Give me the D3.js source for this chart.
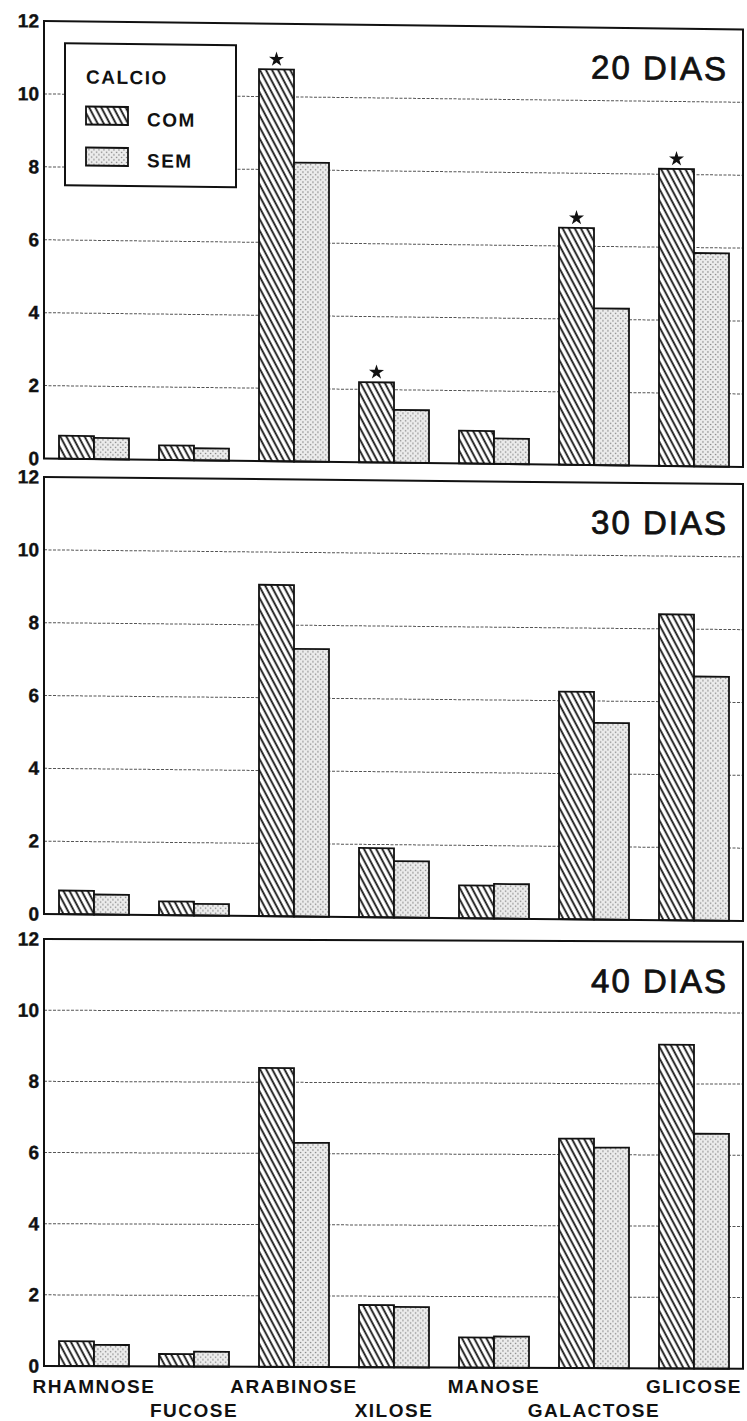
<!DOCTYPE html>
<html>
<head>
	<meta charset="utf-8">
	<title>Açúcares - CALCIO</title>
	<script src="https://d3js.org/d3.v7.min.js" charset="utf-8"></script>
	<style type="text/css">
		body {
			margin: 0;
			background-color: #ffffff;
		}
		svg text {
			font-family: 'Liberation Sans', Arial, Helvetica, sans-serif;
			fill: #111;
		}
		.lbl {
			font-size: 19px;
			font-weight: bold;
			letter-spacing: 1.5px;
		}
		.title {
			font-size: 33px;
			letter-spacing: 2px;
			stroke: #111;
			stroke-width: 0.8px;
		}
	</style>
</head>
<body>
	<div id="chart"></div>

	<script type="text/javascript">

		// acucares (categorias) e series por periodo
		var categories = ['RHAMNOSE', 'FUCOSE', 'ARABINOSE', 'XILOSE', 'MANOSE', 'GALACTOSE', 'GLICOSE'];
		var series = ['COM', 'SEM'];
		var panelLabels = ['20 DIAS', '30 DIAS', '40 DIAS'];
		var yTicks = [0, 2, 4, 6, 8, 10, 12];

		var com20 = [0.63, 0.40, 10.75, 2.2, 0.9, 6.5, 8.15];
		var sem20 = [0.58, 0.33, 8.2, 1.45, 0.7, 4.3, 5.85];
		var star20 = [false, false, true, true, false, true, true];

		var com30 = [0.65, 0.38, 9.1, 1.9, 0.9, 6.25, 8.4];
		var sem30 = [0.55, 0.32, 7.35, 1.55, 0.95, 5.4, 6.7];

		var com40 = [0.7, 0.35, 8.4, 1.75, 0.85, 6.45, 9.1];
		var sem40 = [0.6, 0.42, 6.3, 1.7, 0.88, 6.2, 6.6];

		var w = 747;
		var h = 1421;
		var left = 44;
		var right = 743;

		// posicao de cada painel na pagina (topo = 12, base = 0) e leve inclinacao do scan
		var panels = [
			{ label: panelLabels[0], com: com20, sem: sem20, star: star20, top: 21, bottom: 458.5, skew: 0.012 },
			{ label: panelLabels[1], com: com30, sem: sem30, star: null, top: 477, bottom: 914, skew: 0.010 },
			{ label: panelLabels[2], com: com40, sem: sem40, star: null, top: 939, bottom: 1366, skew: 0.004 }
		];

		var svg = d3.select('#chart')
			.append('svg')
			.attr('width', w)
			.attr('height', h)
			.attr('viewBox', '0 0 ' + w + ' ' + h);

		var defs = svg.append('defs');

		// hachurado (COM)
		var hatch = defs.append('pattern')
			.attr('id', 'hatch')
			.attr('patternUnits', 'userSpaceOnUse')
			.attr('width', 5.4)
			.attr('height', 10)
			.attr('patternTransform', 'rotate(-28)');
		hatch.append('rect')
			.attr('width', 5.4)
			.attr('height', 10)
			.attr('fill', '#fff');
		hatch.append('line')
			.attr('x1', 1.5).attr('y1', 0)
			.attr('x2', 1.5).attr('y2', 10)
			.attr('stroke', '#111')
			.attr('stroke-width', 1.8);

		// pontilhado (SEM)
		var dots = defs.append('pattern')
			.attr('id', 'dots')
			.attr('patternUnits', 'userSpaceOnUse')
			.attr('width', 5)
			.attr('height', 5);
		dots.append('rect')
			.attr('width', 5)
			.attr('height', 5)
			.attr('fill', '#ececec');
		dots.append('circle')
			.attr('cx', 1.5).attr('cy', 1.5).attr('r', 0.75)
			.attr('fill', '#777');
		dots.append('circle')
			.attr('cx', 4).attr('cy', 4).attr('r', 0.75)
			.attr('fill', '#777');

		var fills = { COM: 'url(#hatch)', SEM: 'url(#dots)' };

		var x0 = d3.scaleBand()
			.domain(categories)
			.range([left, left + 700])
			.paddingInner(0.3)
			.paddingOuter(0.15);

		var x1 = d3.scaleBand()
			.domain(series)
			.range([0, x0.bandwidth()]);

		panels.forEach(function(p) {

			var y = d3.scaleLinear()
				.domain([0, 12])
				.range([p.bottom, p.top]);

			var g = svg.append('g')
				.attr('transform', 'matrix(1,' + p.skew + ',0,1,0,' + (-left * p.skew) + ')');

			// linhas de grade pontilhadas
			g.selectAll('.grid')
				.data(yTicks.filter(function(t) { return t > 0 && t < 12; }))
				.enter()
				.append('line')
				.attr('x1', left)
				.attr('x2', right)
				.attr('y1', function(d) { return y(d); })
				.attr('y2', function(d) { return y(d); })
				.attr('stroke', '#555')
				.attr('stroke-width', 1)
				.attr('stroke-dasharray', '3,1.5');

			// eixo y
			var axis = g.append('g')
				.attr('transform', 'translate(' + left + ',0)')
				.call(d3.axisLeft(y).tickValues(yTicks).tickSize(0).tickPadding(5));
			axis.select('.domain').remove();
			axis.attr('font-family', null).attr('font-size', null);
			axis.selectAll('text')
				.style('font-size', '19px')
				.style('font-weight', 'bold')
				.attr('stroke', '#111')
				.attr('stroke-width', 0.4)
				.attr('fill', '#111');

			// rotulo do periodo
			g.append('text')
				.attr('class', 'title')
				.attr('x', 728)
				.attr('y', p.top + 51)
				.attr('text-anchor', 'end')
				.text(p.label);

			// barras
			var rows = categories.map(function(c, i) {
				return { cat: c, values: [
					{ key: 'COM', v: p.com[i] },
					{ key: 'SEM', v: p.sem[i] }
				], star: p.star ? p.star[i] : false, com: p.com[i] };
			});

			var grp = g.selectAll('.grp')
				.data(rows)
				.enter()
				.append('g')
				.attr('transform', function(d) { return 'translate(' + x0(d.cat) + ',0)'; });

			grp.selectAll('rect')
				.data(function(d) { return d.values; })
				.enter()
				.append('rect')
				.attr('x', function(d) { return x1(d.key); })
				.attr('width', x1.bandwidth())
				.attr('y', function(d) { return y(d.v); })
				.attr('height', function(d) { return y(0) - y(d.v); })
				.attr('fill', function(d) { return fills[d.key]; })
				.attr('stroke', '#111')
				.attr('stroke-width', 1.8);

			// asteriscos (diferenca significativa)
			grp.filter(function(d) { return d.star; })
				.append('path')
				.attr('d', d3.symbol(d3.symbolStar).size(70))
				.attr('transform', function(d) {
					return 'translate(' + (x1('COM') + x1.bandwidth() / 2) + ',' + (y(d.com) - 10) + ')';
				})
				.attr('fill', '#111');

			// moldura
			g.append('rect')
				.attr('x', left)
				.attr('y', p.top)
				.attr('width', right - left)
				.attr('height', p.bottom - p.top)
				.attr('fill', 'none')
				.attr('stroke', '#111')
				.attr('stroke-width', 2);

			// legenda so no primeiro painel
			if (p.star) {
				var leg = g.append('g');
				leg.append('rect')
					.attr('x', 65)
					.attr('y', 43)
					.attr('width', 171)
					.attr('height', 142)
					.attr('fill', '#fff')
					.attr('stroke', '#111')
					.attr('stroke-width', 2);
				leg.append('text')
					.attr('class', 'lbl')
					.attr('x', 86)
					.attr('y', 83)
					.text('CALCIO');
				leg.selectAll('.sw')
					.data(series)
					.enter()
					.append('rect')
					.attr('x', 86)
					.attr('y', function(d, i) { return 106 + i * 41; })
					.attr('width', 42)
					.attr('height', 18)
					.attr('fill', function(d) { return fills[d]; })
					.attr('stroke', '#111')
					.attr('stroke-width', 1.8);
				leg.selectAll('.lt')
					.data(series)
					.enter()
					.append('text')
					.attr('class', 'lbl')
					.attr('x', 147)
					.attr('y', function(d, i) { return 125 + i * 41; })
					.text(function(d) { return d; });
			}
		});

		// rotulos do eixo x em duas linhas alternadas
		svg.selectAll('.xlab')
			.data(categories)
			.enter()
			.append('text')
			.attr('class', 'lbl')
			.attr('x', function(d) { return x0(d) + x0.bandwidth() / 2; })
			.attr('y', function(d, i) { return i % 2 == 0 ? 1393 : 1417; })
			.attr('text-anchor', 'middle')
			.text(function(d) { return d; });

	</script>
</body>
</html>
